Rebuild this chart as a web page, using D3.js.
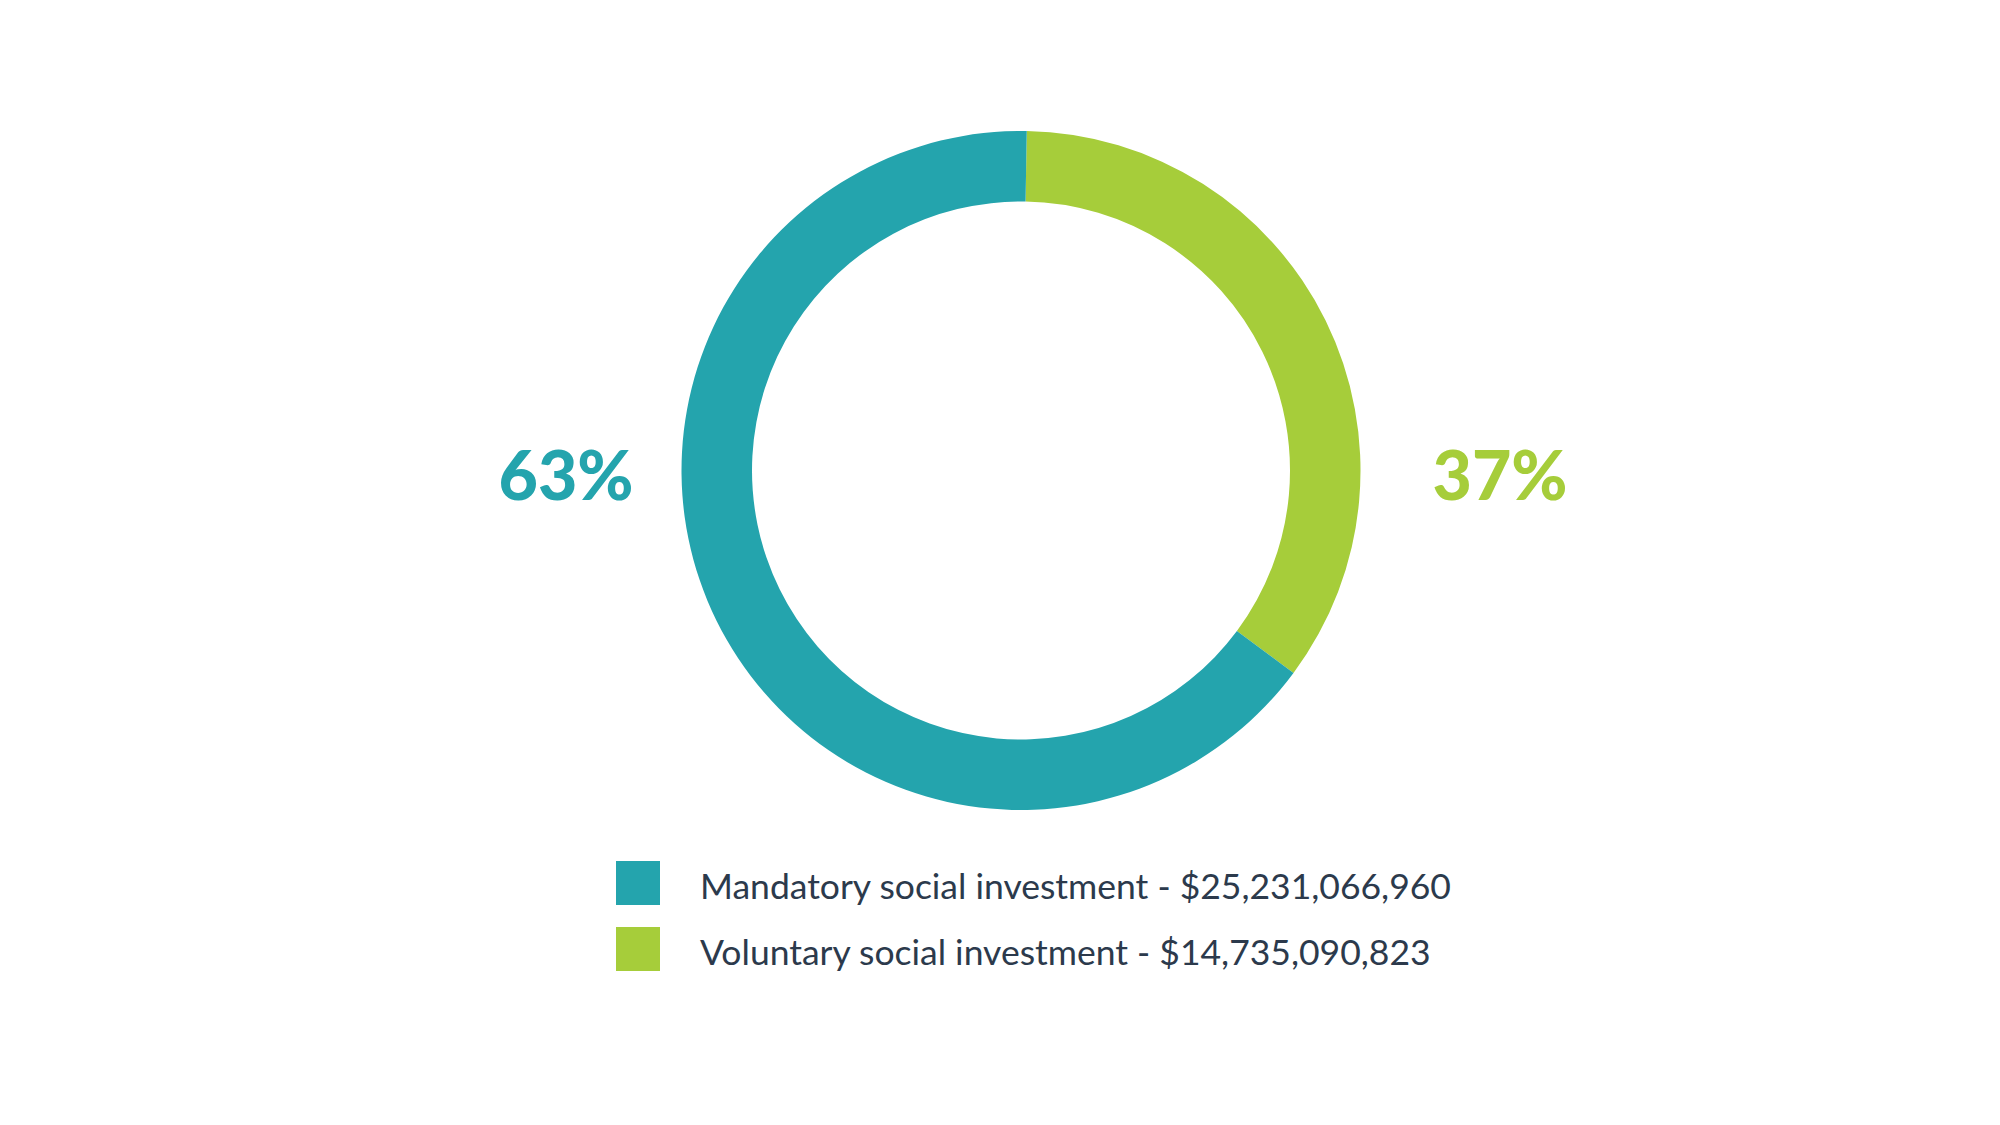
<!DOCTYPE html>
<html>
<head>
<meta charset="utf-8">
<script src="https://cdn.jsdelivr.net/npm/d3@7"></script>
<style>
html,body{margin:0;padding:0;background:#fff;}
svg{display:block;}
</style>
</head>
<body>
<svg id="chart" width="2000" height="1125"></svg>
<script>
// ---- data ----
const categories = ["Voluntary social investment", "Mandatory social investment"];
const amounts = [14735090823, 25231066960];
const percentLabels = ["37%", "63%"];
// share of the ring as drawn in the reference (degrees of arc / 360)
const drawnShares = [34.9, 65.1];
const colors = ["#a6cd3a", "#24a4ad"];
const legendOrder = [1, 0];

const svg = d3.select("#chart");
const cx = 1021, cy = 470.5, rOuter = 339.5, rInner = 269;

const pie = d3.pie().sort(null).value(d => d)
  .startAngle(0.017).endAngle(0.017 + 2 * Math.PI);
const arc = d3.arc().innerRadius(rInner).outerRadius(rOuter);

const g = svg.append("g").attr("transform", `translate(${cx},${cy})`);
g.selectAll("path").data(pie(drawnShares)).join("path")
  .attr("d", arc)
  .attr("fill", (d, i) => colors[i]);

// percentage labels
const pctFont = "Lato, 'Open Sans', sans-serif";
svg.append("text").attr("x", 1500).attr("y", 500)
  .attr("text-anchor", "middle").attr("font-family", pctFont)
  .attr("font-weight", 900).attr("font-size", 68)
  .attr("fill", colors[0]).text(percentLabels[0]);
svg.append("text").attr("x", 566).attr("y", 500)
  .attr("text-anchor", "middle").attr("font-family", pctFont)
  .attr("font-weight", 900).attr("font-size", 68)
  .attr("fill", colors[1]).text(percentLabels[1]);

// legend
const fmt = d3.format(",");
const legend = svg.append("g");
legendOrder.forEach((idx, k) => {
  const y0 = 861 + k * 66;
  legend.append("rect").attr("x", 616).attr("y", y0)
    .attr("width", 44).attr("height", 44).attr("fill", colors[idx]);
  legend.append("text").attr("x", 700).attr("y", y0 + 38)
    .attr("font-family", "Lato, 'Open Sans', sans-serif")
    .attr("font-size", 35.5).attr("fill", "#2c3a4c")
    .text(`${categories[idx]} - $${fmt(amounts[idx])}`);
});
</script>
</body>
</html>
